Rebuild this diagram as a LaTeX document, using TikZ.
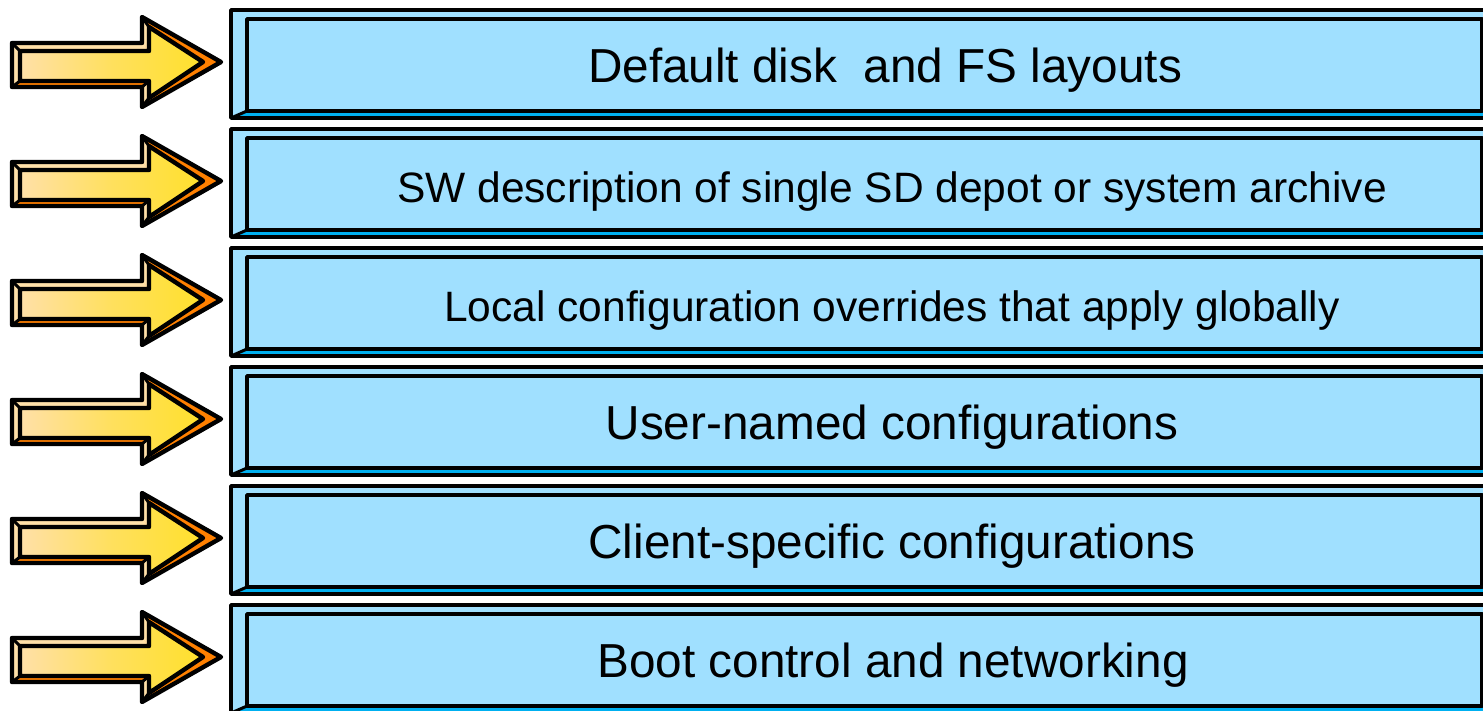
\documentclass[tikz,border=0pt]{standalone}
\usepackage{fontspec}
\setmainfont{Liberation Sans}
\definecolor{panelblue}{HTML}{A0E0FF}
\definecolor{panelrim}{HTML}{00B0F0}
\definecolor{peach}{HTML}{FFE0A8}
\definecolor{goldyellow}{HTML}{FFE02C}
\definecolor{deeporange}{HTML}{FF8000}
\tikzset{
  outline/.style={draw=black, line width=3.8pt, line join=round},
  arrowline/.style={draw=black, line width=4.4pt, line join=round},
  edgeline/.style={draw=black, line width=3pt, line cap=round},
  bigtext/.style={font=\fontsize{47.7}{57}\selectfont, anchor=base, inner sep=0pt},
  smalltext/.style={font=\fontsize{42.5}{51}\selectfont, anchor=base, inner sep=0pt},
}
% bevelled arrow pointing right, row offset #1
\newcommand\bevelarrow[1]{%
  \begin{scope}[shift={(0,#1)}]
    \coordinate (o1) at (12,43);  \coordinate (i1) at (20,51);
    \coordinate (o2) at (142,43); \coordinate (i2) at (149,51);
    \coordinate (o3) at (142,17); \coordinate (i3) at (149,27);
    \coordinate (o4) at (221,62); \coordinate (i4) at (203,62);
    \coordinate (o5) at (142,107);\coordinate (i5) at (149,98);
    \coordinate (o6) at (142,87); \coordinate (i6) at (149,81);
    \coordinate (o7) at (12,87);  \coordinate (i7) at (20,81);
    \fill[deeporange] (o1)--(o2)--(o3)--(o4)--(o5)--(o6)--(o7)--cycle;
    \fill[peach] (o7)--(o1)--(i1)--(i7)--cycle;
    \fill[peach] (o1)--(o2)--(i2)--(i1)--cycle;
    \fill[peach] (o2)--(o3)--(i3)--(i2)--cycle;
    \fill[peach] (o5)--(o6)--(i6)--(i5)--cycle;
    \shade[left color=peach, right color=goldyellow, middle color=peach!40!goldyellow]
      (i1)--(i2)--(i3)--(i4)--(i5)--(i6)--(i7)--cycle;
    \draw[edgeline] (o3)--(i3) (o5)--(i5) (o6)--(i6) (o7)--(i7) (o1)--(i1);
    \draw[arrowline] (i1)--(i2)--(i3)--(i4)--(i5)--(i6)--(i7)--cycle;
    \draw[arrowline] (o1)--(o2)--(o3)--(o4)--(o5)--(o6)--(o7)--cycle;
  \end{scope}}
% bevelled panel, row offset #1
\newcommand\bevelpanel[1]{%
  \begin{scope}[shift={(0,#1)}]
    \fill[panelblue] (231,10) rectangle (1500,118);
    \fill[panelrim] (231,118)--(1500,118)--(1500,111)--(247,111)--cycle;
    \draw[edgeline] (231,118)--(247,111);
    \draw[outline] (247,19) rectangle (1482,111);
    \draw[outline] (231,10) rectangle (1500,118);
  \end{scope}}
\begin{document}
\begin{tikzpicture}[x=1pt, y=-1pt]
  \useasboundingbox (0,0) rectangle (1483,710);
  \clip (0,0) rectangle (1483,710);
  \fill[white] (0,0) rectangle (1483,710);
  \foreach \k in {0,...,5} {
    \bevelpanel{119*\k}
    \bevelarrow{119*\k}
  }
  \foreach \k/\txt/\sty/\cx/\by in {
      0/{Default disk\ \ and FS layouts}/bigtext/885/82,
      1/{SW description of single SD depot or system archive}/smalltext/892/202,
      2/{Local configuration overrides that apply globally}/smalltext/892/321,
      3/{User-named configurations}/bigtext/892/439,
      4/{Client-specific configurations}/bigtext/892/558,
      5/{Boot control and networking}/bigtext/893/677} {
    \node[\sty] (t\k) at (\cx,\by) {\txt};
  }
\end{tikzpicture}
\end{document}
